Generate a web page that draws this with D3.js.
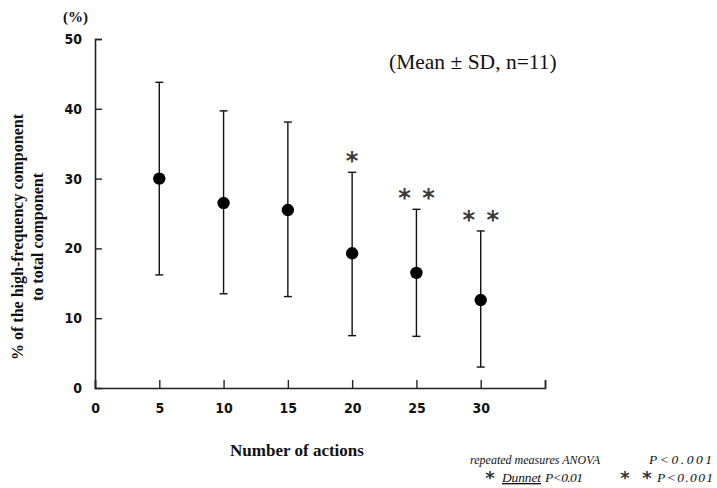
<!DOCTYPE html>
<meta charset="utf-8">
<head>
  <title>High-frequency component</title>
</head>

<style>
body { margin: 0; background: #fff; }
.tick text { font-family: "Liberation Sans Narrow", "DejaVu Sans Condensed", sans-serif; font-weight: bold; font-size: 14px; fill: #111; }
.serif { font-family: "Liberation Serif", "DejaVu Serif", serif; fill: #111; }
</style>

<body>
  <svg width="717" height="488"></svg>

  <script src="https://cdnjs.cloudflare.com/ajax/libs/d3/7.8.5/d3.min.js"></script>

  <script>
  var actions = [5, 10, 15, 20, 25, 30];
  var means   = [30.0, 26.5, 25.5, 19.3, 16.5, 12.6];
  var upper   = [43.8, 39.7, 38.1, 30.9, 25.6, 22.5];
  var lower   = [16.2, 13.5, 13.1, 7.5, 7.4, 3.0];
  var stars   = ["", "", "", "*", "**", "**"];
  var xTicks  = [0, 5, 10, 15, 20, 25, 30, 35];
  var yTicks  = [0, 10, 20, 30, 40, 50];

  var svg = d3.select("svg");

  var x = d3.scaleLinear().domain([0, 35]).range([95, 545]);
  var y = d3.scaleLinear().domain([0, 50]).range([388, 39]);

  var xAxis = svg.append("g")
    .attr("transform", "translate(0," + y(0) + ")")
    .call(d3.axisTop(x).tickValues(xTicks).tickSize(8).tickFormat(function(d) { return d === 35 ? "" : d; }));
  xAxis.select(".domain").attr("stroke", "#222").attr("stroke-width", 1.6);
  xAxis.selectAll(".tick line").attr("stroke", "#222").attr("stroke-width", 1.4);
  xAxis.selectAll(".tick text").attr("y", 15).attr("dy", "0.71em");

  var yAxis = svg.append("g")
    .attr("transform", "translate(" + x(0) + ",0)")
    .call(d3.axisRight(y).tickValues(yTicks).tickSize(7));
  yAxis.select(".domain").attr("stroke", "#222").attr("stroke-width", 1.6);
  yAxis.selectAll(".tick line").attr("stroke", "#222").attr("stroke-width", 1.4);
  yAxis.selectAll(".tick text").attr("x", -13).attr("text-anchor", "end");
  yAxis.selectAll(".tick").filter(function(d) { return d === 0; }).select("line").remove();

  var rows = actions.map(function(a, i) {
    return { a: a, m: means[i], hi: upper[i], lo: lower[i], s: stars[i] };
  });

  var g = svg.append("g").attr("stroke", "#111").attr("stroke-width", 1.4);
  g.selectAll("line.bar").data(rows).enter().append("line")
    .attr("x1", function(d) { return x(d.a); }).attr("x2", function(d) { return x(d.a); })
    .attr("y1", function(d) { return y(d.hi); }).attr("y2", function(d) { return y(d.lo); });
  g.selectAll("line.top").data(rows).enter().append("line")
    .attr("x1", function(d) { return x(d.a) - 4; }).attr("x2", function(d) { return x(d.a) + 4; })
    .attr("y1", function(d) { return y(d.hi); }).attr("y2", function(d) { return y(d.hi); });
  g.selectAll("line.bot").data(rows).enter().append("line")
    .attr("x1", function(d) { return x(d.a) - 4; }).attr("x2", function(d) { return x(d.a) + 4; })
    .attr("y1", function(d) { return y(d.lo); }).attr("y2", function(d) { return y(d.lo); });

  svg.selectAll("circle").data(rows).enter().append("circle")
    .attr("cx", function(d) { return x(d.a); })
    .attr("cy", function(d) { return y(d.m); })
    .attr("r", 6.2)
    .attr("fill", "#000");

  // significance marks
  rows.forEach(function(d) {
    var n = d.s.length;
    for (var k = 0; k < n; k++) {
      var dx = n === 1 ? 0 : (k === 0 ? -12 : 12);
      svg.append("text")
        .attr("x", x(d.a) + dx)
        .attr("y", y(d.hi) - 3)
        .attr("text-anchor", "middle")
        .attr("font-family", "DejaVu Sans, sans-serif")
        .attr("font-weight", "bold")
        .attr("font-size", 24)
        .attr("fill", "#3a3a3a")
        .text("*");
    }
  });

  svg.append("text").attr("class", "serif")
    .attr("x", 63).attr("y", 22)
    .attr("font-size", 15).attr("font-weight", "bold")
    .text("(%)");

  svg.append("text").attr("class", "serif")
    .attr("x", 297).attr("y", 456)
    .attr("text-anchor", "middle")
    .attr("font-size", 17).attr("font-weight", "bold")
    .text("Number of actions");

  var yt = svg.append("text").attr("class", "serif")
    .attr("transform", "translate(23,237) rotate(-90)")
    .attr("text-anchor", "middle")
    .attr("font-size", 16).attr("font-weight", "bold");
  yt.append("tspan").attr("x", 0).attr("y", 0).text("% of the high-frequency component");
  yt.append("tspan").attr("x", 0).attr("y", 20).text("to total component");

  svg.append("text").attr("class", "serif")
    .attr("x", 389).attr("y", 69)
    .attr("font-size", 21.5)
    .text("(Mean \u00b1 SD, n=11)");

  var foot = svg.append("g").attr("class", "serif").attr("font-size", 13.5).attr("font-style", "italic");
  foot.append("text").attr("x", 470).attr("y", 464)
    .attr("textLength", 130).attr("lengthAdjust", "spacingAndGlyphs")
    .text("repeated measures ANOVA");
  foot.append("text").attr("x", 649).attr("y", 464)
    .attr("textLength", 63).attr("lengthAdjust", "spacing")
    .text("P<0.001");
  foot.append("text").attr("x", 502).attr("y", 482)
    .attr("textLength", 39).attr("lengthAdjust", "spacing")
    .attr("text-decoration", "underline").text("Dunnet");
  foot.append("text").attr("x", 545).attr("y", 482)
    .attr("textLength", 38).attr("lengthAdjust", "spacing")
    .text("P<0.01");
  foot.append("text").attr("x", 657).attr("y", 482)
    .attr("textLength", 56).attr("lengthAdjust", "spacing")
    .text("P<0.001");
  [490, 625, 647].forEach(function(cx) {
    foot.append("text").attr("x", cx).attr("y", 484)
      .attr("text-anchor", "middle")
      .attr("font-family", "DejaVu Sans, sans-serif")
      .attr("font-style", "normal").attr("font-weight", "bold")
      .attr("font-size", 18).attr("fill", "#333")
      .text("*");
  });
  </script>
</body>
</html>
